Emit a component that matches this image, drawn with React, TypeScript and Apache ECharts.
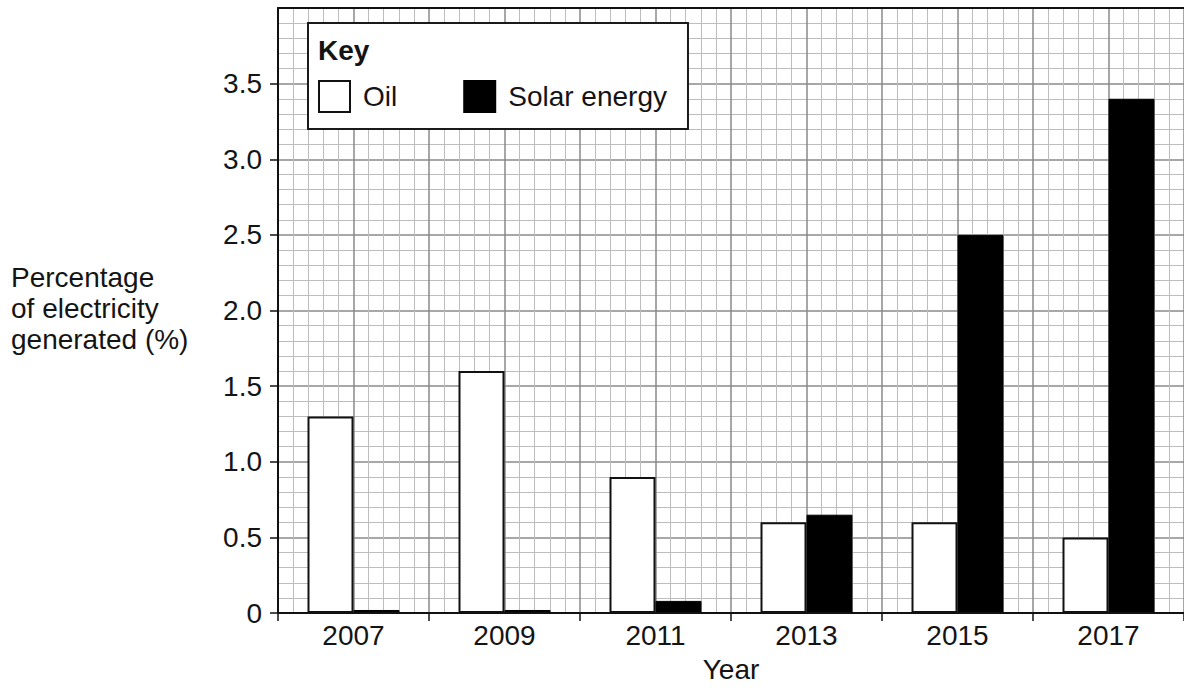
import React, { useEffect, useRef } from "react";
import * as echarts from "echarts";

const years = ["2007", "2009", "2011", "2013", "2015", "2017"];
const oilValues = [1.3, 1.6, 0.9, 0.6, 0.6, 0.5];
const solarValues = [0.02, 0.02, 0.08, 0.65, 2.5, 3.4];
const yTickValues = [0, 0.5, 1.0, 1.5, 2.0, 2.5, 3.0, 3.5];
const yAxisTitle = "Percentage\nof electricity\ngenerated (%)";
const xAxisTitle = "Year";
const keyTitle = "Key";

const FONT = "'Liberation Sans', Arial, sans-serif";
const TXT = "#141414";

export default function App() {
  const ref = useRef<HTMLDivElement>(null);
  useEffect(() => {
    if (!ref.current) return;
    const chart = echarts.init(ref.current, null, { renderer: "svg" });
    chart.setOption({
      animation: false,
      backgroundColor: "#ffffff",
      textStyle: { fontFamily: FONT },
      grid: { left: 278, right: 0, top: 8, bottom: 73, containLabel: false },
      legend: {
        left: 308,
        top: 23,
        orient: "horizontal",
        data: ["Oil", "Solar energy"],
        icon: "rect",
        itemWidth: 31,
        itemHeight: 31,
        itemGap: 66,
        padding: [57, 21, 16, 10],
        backgroundColor: "#ffffff",
        borderColor: "#1a1a1a",
        borderWidth: 2,
        borderRadius: 0,
        selectedMode: false,
        textStyle: {
          fontFamily: FONT,
          fontSize: 28,
          color: TXT,
          padding: [0, 0, 0, 8],
        },
        z: 10,
      },
      graphic: [
        {
          type: "text",
          left: 318,
          top: 36,
          z: 100,
          style: {
            text: keyTitle,
            font: `bold 28px ${FONT}`,
            fill: TXT,
          },
        },
        {
          type: "text",
          left: 11,
          top: 262,
          style: {
            text: yAxisTitle,
            font: `28px ${FONT}`,
            fill: TXT,
            lineHeight: 31,
          },
        },
      ],
      xAxis: [
        {
          type: "category",
          data: years,
          position: "bottom",
          name: xAxisTitle,
          nameLocation: "middle",
          nameGap: 42,
          nameTextStyle: { fontFamily: FONT, fontSize: 28, color: TXT },
          axisLine: { show: true, lineStyle: { color: "#111", width: 2 } },
          axisTick: { show: true, length: 8, lineStyle: { color: "#111", width: 1.5 } },
          axisLabel: { fontFamily: FONT, fontSize: 28, color: TXT, margin: 8 },
          splitLine: { show: false },
          z: 5,
        },
        {
          type: "value",
          min: 0,
          max: 60,
          interval: 5,
          position: "top",
          axisLine: { show: true, onZero: false, lineStyle: { color: "#111", width: 2 } },
          axisTick: { show: false },
          axisLabel: { show: false },
          minorTick: { show: false, splitNumber: 5 },
          splitLine: { show: true, lineStyle: { color: "#8a8a8a", width: 1.5 } },
          minorSplitLine: { show: true, lineStyle: { color: "#bdbdbd", width: 1 } },
        },
      ],
      yAxis: {
        type: "value",
        min: 0,
        max: 4,
        interval: 0.5,
        axisLine: { show: true, lineStyle: { color: "#111", width: 2 } },
        axisTick: {
          show: true,
          length: 8,
          customValues: yTickValues,
          lineStyle: { color: "#111", width: 1.5 },
        },
        axisLabel: {
          fontFamily: FONT,
          fontSize: 28,
          color: TXT,
          margin: 16,
          customValues: yTickValues,
          formatter: (v: number) => (v === 0 ? "0" : v.toFixed(1)),
        },
        minorTick: { show: false, splitNumber: 5 },
        splitLine: { show: true, lineStyle: { color: "#8a8a8a", width: 1.5 } },
        minorSplitLine: { show: true, lineStyle: { color: "#bdbdbd", width: 1 } },
      },
      series: [
        {
          name: "Oil",
          type: "bar",
          xAxisIndex: 0,
          data: oilValues,
          barWidth: 46,
          barGap: "0%",
          itemStyle: { color: "#ffffff", borderColor: "#111", borderWidth: 2 },
          z: 3,
        },
        {
          name: "Solar energy",
          type: "bar",
          xAxisIndex: 0,
          data: solarValues,
          barWidth: 46,
          barGap: "0%",
          itemStyle: { color: "#000000", borderColor: "#000", borderWidth: 1 },
          z: 3,
        },
      ],
    });
    return () => chart.dispose();
  }, []);
  return (
    <div
      ref={ref}
      style={{ position: "absolute", left: 0, top: 0, width: 1184, height: 688 }}
    />
  );
}
